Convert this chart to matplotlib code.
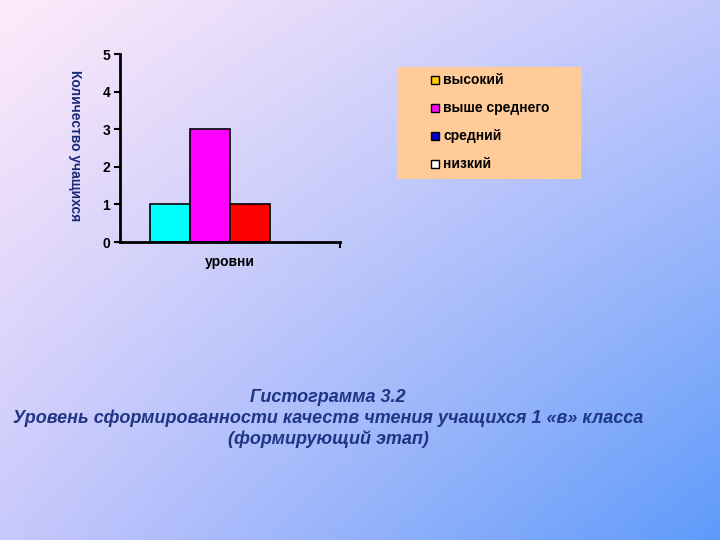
import numpy as np
import matplotlib
matplotlib.use("Agg")
import matplotlib.pyplot as plt
from matplotlib.patches import Rectangle

plt.rcParams['font.family'] = ['Liberation Sans', 'DejaVu Sans']

# Data
bar_values = [1, 3, 1]
bar_colors = ['#00FFFF', '#FF00FF', '#FF0000']
legend_labels = ['высокий', 'выше среднего', 'средний', 'низкий']
legend_colors = ['#FFCC00', '#FF00FF', '#0000CC', '#FFFFFF']
y_ticks = [0, 1, 2, 3, 4, 5]
y_label = 'Количество учащихся'
x_label = 'уровни'
caption = ['Гистограмма 3.2',
           'Уровень сформированности качеств чтения учащихся 1 «в» класса',
           '(формирующий этап)']

W, H = 720, 540
fig = plt.figure(figsize=(W / 100, H / 100), dpi=100)

# Background gradient
bg = fig.add_axes([0, 0, 1, 1])
bg.set_axis_off()
tl = np.array([255, 234, 250]) / 255
tr = np.array([195, 200, 252]) / 255
bl = np.array([200, 200, 252]) / 255
br = np.array([95, 155, 250]) / 255
u = np.linspace(0, 1, 200)[None, :, None]
v = np.linspace(0, 1, 150)[:, None, None]
img = (1 - u) * (1 - v) * tl + u * (1 - v) * tr + (1 - u) * v * bl + u * v * br
bg.imshow(img, extent=[0, 1, 0, 1], aspect='auto', origin='upper')
bg.set_xlim(0, 1)
bg.set_ylim(0, 1)

# Chart axes
ax = fig.add_axes([120 / W, 1 - 242 / H, 220 / W, 188 / H])
ax.patch.set_alpha(0)
x = np.arange(len(bar_values))
ax.bar(x, bar_values, width=1.0, color=bar_colors, edgecolor='black', linewidth=1.2, zorder=2)
ax.set_xlim(-1.25, 4.25)
ax.set_ylim(0, 5)
ax.set_yticks(y_ticks)
ax.set_yticklabels([str(t) for t in y_ticks], fontsize=10, fontweight='bold')
ax.set_xticks([4.25])
ax.set_xticklabels([''])
ax.tick_params(axis='y', direction='out', length=4, width=1.5, pad=3)
ax.tick_params(axis='x', direction='out', length=4, width=1.5)
for s in ['top', 'right']:
    ax.spines[s].set_visible(False)
for s in ['left', 'bottom']:
    ax.spines[s].set_linewidth(2)
    ax.spines[s].set_color('black')
ax.set_xlabel(x_label, fontsize=10, fontweight='bold', labelpad=2)

fig.text(75 / W, 1 - 146 / H, y_label, rotation=-90, ha='center', va='center',
         fontsize=10, fontweight='bold', color='#1a2a7a')

# Legend box
lx0, ly0, lx1, ly1 = 397, 67, 581, 179
fig.patches.append(Rectangle((lx0 / W, 1 - ly1 / H), (lx1 - lx0) / W, (ly1 - ly0) / H,
                             transform=fig.transFigure, facecolor='#FFCC99',
                             edgecolor='none', zorder=1))
rows_y = [80, 108, 136, 164]
for lab, col, yy in zip(legend_labels, legend_colors, rows_y):
    fig.patches.append(Rectangle((431 / W, 1 - (yy + 4) / H), 8 / W, 8 / H,
                                 transform=fig.transFigure, facecolor=col,
                                 edgecolor='black', linewidth=1, zorder=2))
    fig.text(443 / W, 1 - yy / H, lab, ha='left', va='center', fontsize=10,
             fontweight='bold', color='black', zorder=3)

# Caption
cap_y = [397, 418, 439]
for line, yy in zip(caption, cap_y):
    fig.text(328 / W, 1 - yy / H, line, ha='center', va='center', fontsize=13,
             fontstyle='italic', fontweight='bold', color='#1f3585')

fig.savefig('out.png', dpi=100)
